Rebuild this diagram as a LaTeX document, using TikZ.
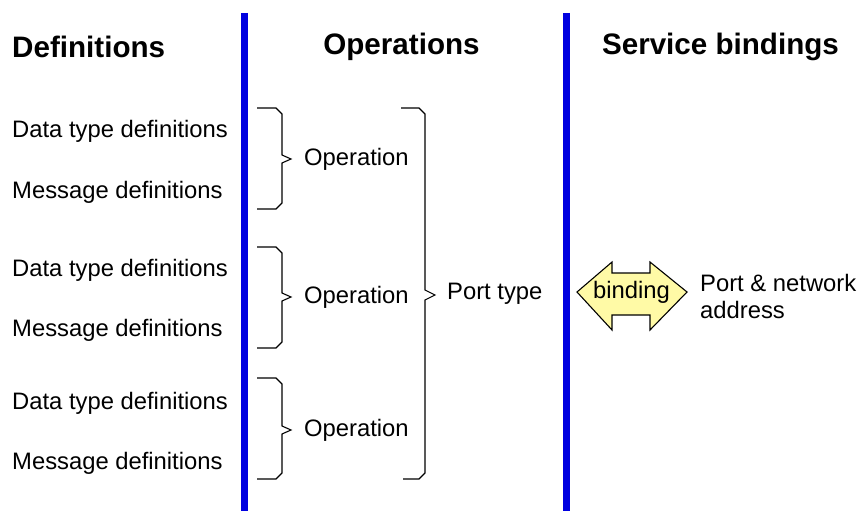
\documentclass[tikz,border=0pt]{standalone}
\usepackage{fontspec}
\setmainfont{Liberation Sans}
\begin{document}
\begin{tikzpicture}[x=1pt,y=-1pt,
  lbl/.style={font=\fontsize{23.8}{26}\selectfont, inner sep=0pt, anchor=west},
  head/.style={font=\fontsize{29.6}{32}\selectfont\bfseries, inner sep=0pt},
  bar/.style={draw=blue!88!black, line width=7pt},
  brc/.style={draw=black, line width=1.1pt},
  bindarrow/.style={draw=black, line width=1.1pt, fill=yellow!35}]
\useasboundingbox (0,0) rectangle (858,511);
% column separators
\coordinate (b1t) at (244.5,13); \coordinate (b1b) at (244.5,511);
\coordinate (b2t) at (566.5,13); \coordinate (b2b) at (566.5,511);
\draw[bar] (b1t) -- (b1b);
\draw[bar] (b2t) -- (b2b);
% headings
\node[head, anchor=west] (hdef) at (12,47) {Definitions};
\node[head] (hops) at (401.5,47) {Operations};
\node[head] (hsvc) at (720.5,47) {Service bindings};
% definitions
\node[lbl] (d1) at (12,131) {Data type definitions};
\node[lbl] (m1) at (12,192) {Message definitions};
\node[lbl] (d2) at (12,270) {Data type definitions};
\node[lbl] (m2) at (12,330) {Message definitions};
\node[lbl] (d3) at (12,403) {Data type definitions};
\node[lbl] (m3) at (12,463) {Message definitions};
% small braces
\foreach \t/\b/\m in {108/209/159, 247/348/297, 378/479/430}{
  \draw[brc] (257,\t) -- (276,\t) -- (282,\t+6) -- (282,\m-4) -- (291,\m) -- (282,\m+4) -- (282,\b-6) -- (276,\b) -- (257,\b);
}
\node[lbl] (op1) at (304,159) {Operation};
\node[lbl] (op2) at (304,297) {Operation};
\node[lbl] (op3) at (304,430) {Operation};
% large brace
\draw[brc] (401,108) -- (419,108) -- (425,114) -- (425,290) -- (435,295) -- (425,300) -- (425,473) -- (419,479) -- (403,479);
\node[lbl] (pt) at (447,294) {Port type};
% binding arrow
\draw[bindarrow] (577,292) -- (612,262) -- (612,273) -- (650,273) -- (650,262) -- (687,292) -- (650,330) -- (650,315) -- (612,315) -- (612,330) -- cycle;
\node[font=\fontsize{23.8}{26}\selectfont, inner sep=0pt] (bind) at (631.5,292) {binding};
\node[lbl, align=left, font=\fontsize{23.8}{27}\selectfont] (pna) at (700,296) {Port \& network\\address};
\end{tikzpicture}
\end{document}
